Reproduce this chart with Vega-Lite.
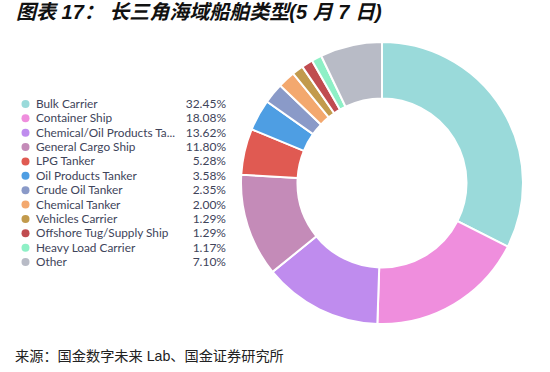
{
  "$schema": "https://vega.github.io/schema/vega-lite/v6.json",
  "width": 550,
  "height": 309,
  "autosize": {"type": "none"},
  "padding": {"top": 32, "bottom": 31, "left": 0, "right": 0},
  "background": "white",
  "title": {
    "text": "图表 17： 长三角海域船舶类型(5 月 7 日)",
    "anchor": "start",
    "frame": "group",
    "dx": 16,
    "offset": 9,
    "font": "Liberation Sans, Noto Sans CJK SC",
    "fontSize": 20,
    "fontWeight": "bold",
    "fontStyle": "italic",
    "color": "#111111"
  },
  "config": {"view": {"stroke": null}},
  "datasets": {
    "ships": [
      {"i": 1, "type": "Bulk Carrier", "pct": 32.45},
      {"i": 2, "type": "Container Ship", "pct": 18.08},
      {"i": 3, "type": "Chemical/Oil Products Tanker", "pct": 13.62},
      {"i": 4, "type": "General Cargo Ship", "pct": 11.80},
      {"i": 5, "type": "LPG Tanker", "pct": 5.28},
      {"i": 6, "type": "Oil Products Tanker", "pct": 3.58},
      {"i": 7, "type": "Crude Oil Tanker", "pct": 2.35},
      {"i": 8, "type": "Chemical Tanker", "pct": 2.00},
      {"i": 9, "type": "Vehicles Carrier", "pct": 1.29},
      {"i": 10, "type": "Offshore Tug/Supply Ship", "pct": 1.29},
      {"i": 11, "type": "Heavy Load Carrier", "pct": 1.17},
      {"i": 12, "type": "Other", "pct": 7.10}
    ],
    "note": [{"source": "来源：国金数字未来 Lab、国金证券研究所"}]
  },
  "data": {"name": "ships"},
  "layer": [
    {
      "mark": {"type": "arc", "x": 382, "y": 151, "innerRadius": 84.5, "outerRadius": 141, "stroke": "white", "strokeWidth": 2},
      "encoding": {
        "theta": {"field": "pct", "type": "quantitative", "stack": true},
        "order": {"field": "i", "type": "quantitative"},
        "color": {
          "field": "type", "type": "nominal", "legend": null,
          "scale": {
            "domain": ["Bulk Carrier", "Container Ship", "Chemical/Oil Products Tanker", "General Cargo Ship", "LPG Tanker", "Oil Products Tanker", "Crude Oil Tanker", "Chemical Tanker", "Vehicles Carrier", "Offshore Tug/Supply Ship", "Heavy Load Carrier", "Other"],
            "range": ["#9adada", "#ef8edd", "#bf8cee", "#c48bb8", "#e05a52", "#4e9ee3", "#8a9ac8", "#f3a86e", "#c29a4c", "#c04c50", "#8ef0c6", "#b8bbc6"]
          }
        }
      }
    },
    {
      "mark": {"type": "point", "filled": true, "opacity": 1, "size": 64, "x": 25.5},
      "encoding": {
        "y": {"field": "type", "type": "nominal", "sort": null, "axis": null, "scale": {"type": "point", "range": [72, 230], "padding": 0}},
        "color": {"field": "type", "type": "nominal", "legend": null}
      }
    },
    {
      "mark": {"type": "text", "x": 36, "align": "left", "baseline": "middle", "font": "Lato", "fontSize": 11.8, "color": "#40445a", "limit": 144, "ellipsis": "..."},
      "encoding": {
        "y": {"field": "type", "type": "nominal", "sort": null},
        "text": {"field": "type"}
      }
    },
    {
      "mark": {"type": "text", "x": 226, "align": "right", "baseline": "middle", "font": "Lato", "fontSize": 12, "color": "#40445a", "text": {"expr": "format(datum.pct, '.2f') + '%'"}},
      "encoding": {
        "y": {"field": "type", "type": "nominal", "sort": null}
      }
    },
    {
      "data": {"name": "note"},
      "mark": {"type": "rule", "y": 0, "color": "#6cc4ec", "strokeWidth": 1.5},
      "encoding": {}
    },
    {
      "data": {"name": "note"},
      "mark": {"type": "rule", "y": "height", "color": "#6cc4ec", "strokeWidth": 1.5},
      "encoding": {}
    },
    {
      "data": {"name": "note"},
      "mark": {"type": "text", "x": 15, "y": {"expr": "height + 16"}, "align": "left", "baseline": "middle", "font": "Liberation Sans, Noto Sans CJK SC", "fontSize": 14.2, "color": "#222222"},
      "encoding": {"text": {"field": "source"}}
    }
  ]
}
